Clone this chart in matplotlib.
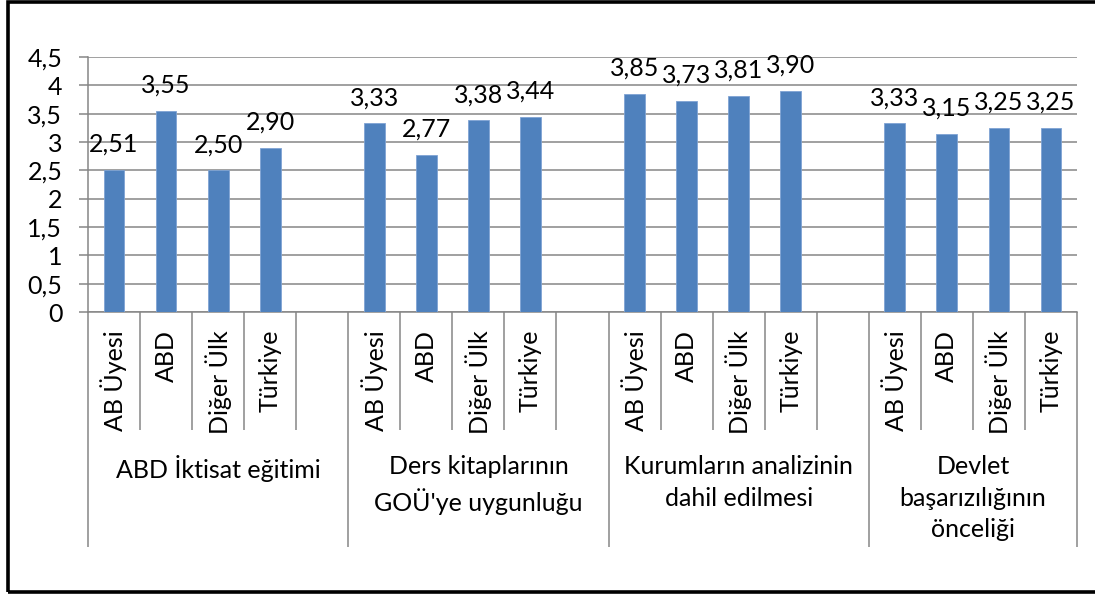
import matplotlib
matplotlib.use("Agg")
import matplotlib.pyplot as plt
import matplotlib.transforms as mtransforms
from matplotlib.patches import Rectangle

plt.rcParams['font.family'] = ['Lato', 'DejaVu Sans']

# Data
groups = [
    "ABD İktisat eğitimi",
    "Ders kitaplarının\nGOÜ'ye uygunluğu",
    "Kurumların analizinin\ndahil edilmesi",
    "Devlet\nbaşarızılığının\nönceliği",
]
countries = ["AB Üyesi", "ABD", "Diğer Ülk", "Türkiye"]
values_g1 = [2.51, 3.55, 2.50, 2.90]
values_g2 = [3.33, 2.77, 3.38, 3.44]
values_g3 = [3.85, 3.73, 3.81, 3.90]
values_g4 = [3.33, 3.15, 3.25, 3.25]
all_values = [values_g1, values_g2, values_g3, values_g4]
y_ticks = [0, 0.5, 1, 1.5, 2, 2.5, 3, 3.5, 4, 4.5]

bar_color = "#4F81BD"
grid_color = "#868686"
fs = 18

fig = plt.figure(figsize=(10.95, 5.94), dpi=100)
ax = fig.add_axes([88 / 1095, (594 - 312) / 594, (1077 - 88) / 1095, (312 - 57) / 594])

# 每组 5 个槽位（最后一组 4 个）
slot = 5
n_slots = slot * (len(groups) - 1) + len(countries)

for g, vals in enumerate(all_values):
    xs = [g * slot + j for j in range(len(vals))]
    ax.bar(xs, vals, width=0.4, color=bar_color, edgecolor="#7FA3D4", linewidth=0.6, zorder=3)
    for x, v in zip(xs, vals):
        ax.annotate(f"{v:.2f}".replace(".", ","), (x, v), xytext=(0, 13),
                    textcoords="offset points", ha="center", va="baseline",
                    fontsize=fs, color="black")

ax.set_xlim(-0.5, n_slots - 0.5)
ax.set_ylim(0, 4.5)
ax.set_yticks(y_ticks)
ax.set_yticklabels([f"{t:g}".replace(".", ",") for t in y_ticks], fontsize=fs)
ax.tick_params(axis="y", length=6.5, width=1.1, color=grid_color, pad=12)
ax.set_xticks([])
ax.grid(axis="y", color=grid_color, linewidth=1.1, zorder=0)
ax.set_axisbelow(True)
for s in ["top", "right"]:
    ax.spines[s].set_visible(False)
for s in ["left", "bottom"]:
    ax.spines[s].set_color(grid_color)
    ax.spines[s].set_linewidth(1.1)

# 分类轴分隔线
trans = mtransforms.blended_transform_factory(ax.transData, ax.transAxes)
ax_h = 312 - 57
short_y = -(430 - 312) / ax_h
long_y = -(547 - 312) / ax_h
group_edges = [-0.5] + [g * slot + slot - 0.5 for g in range(len(groups) - 1)] + [n_slots - 0.5]
for k in range(n_slots + 1):
    x = k - 0.5
    y_end = long_y if x in group_edges else short_y
    ax.plot([x, x], [0, y_end], transform=trans, color=grid_color, linewidth=1.1,
            clip_on=False, solid_capstyle="butt")

# 国家标签
label_y = -(330 - 312) / ax_h
for g in range(len(groups)):
    for j, c in enumerate(countries):
        ax.text(g * slot + j, label_y, c, transform=trans, rotation=90,
                ha="center", va="top", fontsize=fs)

# 组标签
group_y = -(455 - 312) / ax_h
for g, name in enumerate(groups):
    cx = (group_edges[g] + group_edges[g + 1]) / 2
    ax.text(cx, group_y, name, transform=trans, ha="center", va="top",
            multialignment="center", fontsize=fs, linespacing=1.45)

# 外框
fig.patches.append(Rectangle((7.5 / 1095, 2 / 594), 1.2, 1 - 4 / 594,
                             transform=fig.transFigure, fill=False,
                             edgecolor="black", linewidth=2.6))

fig.savefig("out.png", dpi=100)
